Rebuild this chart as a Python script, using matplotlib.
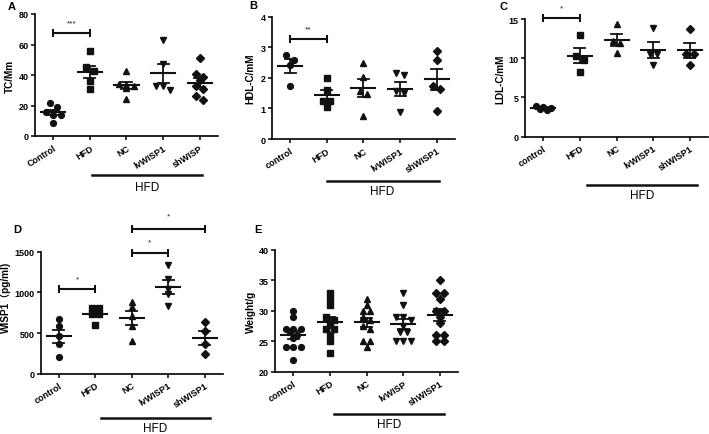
import numpy as np
import matplotlib
matplotlib.use("Agg")
from matplotlib import pyplot as plt

plt.rcParams['font.family'] = ['Liberation Sans', 'Noto Sans CJK SC', 'DejaVu Sans']

# ---- data ----
tc_labels = ["Control", "HFD", "NC", "lvWISP1", "shWISP"]
tc_values = [
    [21.5, 19, 16, 14, 13.5, 8.5],
    [55.5, 45, 42.3, 36.2, 31],
    [42.5, 34, 33.5, 33, 31.5, 24.5],
    [63, 47.5, 33, 32.5, 30],
    [51, 40.5, 38.5, 37, 33, 30.5, 26.5, 23.5],
]

hdl_labels = ["control", "HFD", "NC", "lvWISP1", "shWISP1"]
hdl_values = [
    [2.75, 2.6, 2.42, 1.74],
    [2.0, 1.6, 1.25, 1.25, 1.05],
    [2.5, 2.04, 1.56, 1.47, 0.76],
    [2.15, 2.08, 1.56, 1.5, 0.88],
    [2.87, 2.6, 1.74, 1.64, 0.9],
]

ldl_labels = ["control", "HFD", "NC", "lvWISP1", "shWISP1"]
ldl_values = [
    [3.85, 3.8, 3.7, 3.5, 3.45],
    [12.9, 10.3, 9.8, 8.3],
    [14.4, 12.2, 11.9, 10.7],
    [13.8, 10.6, 10.6, 9.2],
    [13.7, 10.55, 10.55, 9.15],
]

wisp_labels = ["control", "HFD", "NC", "lvWISP1", "shWISP1"]
wisp_values = [
    [672, 582, 467, 365, 209],
    [810, 805, 735, 730, 600],
    [885, 824, 705, 590, 406],
    [1336, 1170, 1041, 980, 828],
    [635, 520, 370, 240],
]

weight_labels = ["control", "HFD", "NC", "lvWISP", "shWISP1"]
weight_values = [
    [30, 29, 27, 27, 27, 26.5, 26, 25.5, 24, 24, 24, 22],
    [33, 32, 31, 29, 28.5, 28, 27, 27, 26, 25, 23],
    [32, 31, 30, 30, 29, 28.5, 27.5, 27, 25, 25, 24],
    [33, 31, 29, 29, 28.5, 27.5, 26.5, 26.5, 25, 25, 25],
    [35, 33, 33, 32, 30, 30, 29, 28, 26, 26, 25, 25],
]

markers = ['o', 's', '^', 'v', 'D']
msizes = [4.2, 4.0, 4.6, 4.6, 3.8]

W, H = 709, 435
fig = plt.figure(figsize=(W / 100, H / 100), dpi=100)


def make_ax(left, top, right, bottom):
    return fig.add_axes([left / W, 1 - bottom / H, (right - left) / W, (bottom - top) / H])


def spread(vals, yrange):
    # simple beeswarm: spread points that sit close together
    vals = np.asarray(vals, dtype=float)
    order = np.argsort(-vals)
    offs = np.zeros(len(vals))
    thr = 0.04 * yrange
    i = 0
    while i < len(order):
        j = i
        while j + 1 < len(order) and vals[order[i]] - vals[order[j + 1]] < thr and j - i < 2:
            j += 1
        n = j - i + 1
        for k in range(n):
            offs[order[i + k]] = (k - (n - 1) / 2) * 0.2
        i = j + 1
    return offs


def panel(ax, labels, values, ylim, yticks, ylabel, letter, ylab, grp):
    yrange = ylim[1] - ylim[0]
    for i, vals in enumerate(values):
        x = i + spread(vals, yrange)
        ax.plot(x, vals, linestyle='none', marker=markers[i], ms=msizes[i],
                color='#111111', clip_on=False, zorder=3)
        m = np.mean(vals)
        sem = np.std(vals, ddof=1) / np.sqrt(len(vals))
        ax.plot([i - 0.33, i + 0.33], [m, m], color='#111111', lw=1.5, zorder=4)
        ax.plot([i, i], [m - sem, m + sem], color='#111111', lw=1.3, zorder=4)
        for e in (m - sem, m + sem):
            ax.plot([i - 0.15, i + 0.15], [e, e], color='#111111', lw=1.3, zorder=4)
    ax.set_xlim(-0.5, 4.5)
    ax.set_ylim(*ylim)
    ax.set_yticks(yticks)
    ax.set_xticks(range(5))
    ax.set_xticklabels(labels, rotation=32, ha='right', rotation_mode='anchor',
                       fontsize=6.5, fontweight='bold')
    for t in ax.get_yticklabels():
        t.set_fontweight('bold')
        t.set_fontsize(6.5)
    for s in ('top', 'right'):
        ax.spines[s].set_visible(False)
    for s in ('left', 'bottom'):
        ax.spines[s].set_linewidth(1.2)
    ax.tick_params(axis='both', direction='out', length=3, width=1.1, pad=1.5)
    ax.tick_params(axis='x', pad=2)
    ax.patch.set_alpha(0)

    bbox = ax.get_position()
    wpx = bbox.width * W
    hpx = bbox.height * H
    ax.set_ylabel(ylabel, fontsize=7.2, fontweight='bold')
    ax.yaxis.label.set_va('center')
    ax.yaxis.set_label_coords(-ylab[0] / wpx, ylab[1])
    fig.text(letter[1] / W, 1 - letter[2] / H, letter[0],
             fontsize=8, fontweight='bold', ha='center', va='center')

    # HFD group bracket under the tick labels
    x0, x1, ly, ty = grp
    tr = ax.get_xaxis_transform()
    ax.plot([x0, x1], [-ly / hpx, -ly / hpx], color='#111111', lw=1.8,
            transform=tr, clip_on=False)
    ax.text((x0 + x1) / 2, -ty / hpx, "HFD", transform=tr, ha='center', va='center',
            fontsize=8.5)


def sig(ax, i0, i1, y, ys, stars):
    ax.plot([i0, i1], [y, y], color='#111111', lw=1.5, clip_on=False)
    ax.plot([i0, i0], [y, y], marker='|', ms=6, mew=1.4, color='#111111', clip_on=False)
    ax.plot([i1, i1], [y, y], marker='|', ms=6, mew=1.4, color='#111111', clip_on=False)
    ax.text((i0 + i1) / 2, ys, stars, ha='center', va='center', fontsize=6,
            color='#222222', clip_on=False)


# letter: (text, x px, y px) ; ylab: (px left of axis, axes y fraction)
axA = make_ax(35, 15, 218, 137)
panel(axA, tc_labels, tc_values, (0, 80), [0, 20, 40, 60, 80], "TC/Mm",
      ("A", 12, 7), (25, 0.5), (1.05, 4.05, 39, 51))
sig(axA, 0, 1, 67.5, 74, "***")

axB = make_ax(271.7, 17.7, 455, 140)
panel(axB, hdl_labels, hdl_values, (0, 4), [0, 1, 2, 3, 4], "HDL-C/mM",
      ("B", 253, 6), (21.7, 0.5), (1.0, 4.05, 42, 52))
sig(axB, 0, 1, 3.27, 3.6, "**")

axC = make_ax(525, 20, 708.3, 137.7)
panel(axC, ldl_labels, ldl_values, (0, 15), [0, 5, 10, 15], "LDL-C/mM",
      ("C", 503, 7), (25, 0.5), (1.2, 4.2, 48, 58))
sig(axC, 0, 1, 15.1, 16.4, "*")

axD = make_ax(40.5, 252.7, 223, 374.7)
panel(axD, wisp_labels, wisp_values, (0, 1500), [0, 500, 1000, 1500], "WISP1（pg/ml)",
      ("D", 17, 230), (35, 0.63), (1.15, 4.15, 44, 54))
sig(axD, 0, 1, 1041, 1160, "*")
sig(axD, 2, 3, 1488, 1615, "*")
sig(axD, 2, 4, 1779, 1945, "*")

axE = make_ax(275, 251, 458.3, 372.7)
panel(axE, weight_labels, weight_values, (20, 40), [20, 25, 30, 35, 40], "Weight/g",
      ("E", 258, 230), (24, 0.5), (1.1, 4.1, 42, 52))

fig.savefig("out.png", dpi=100)
